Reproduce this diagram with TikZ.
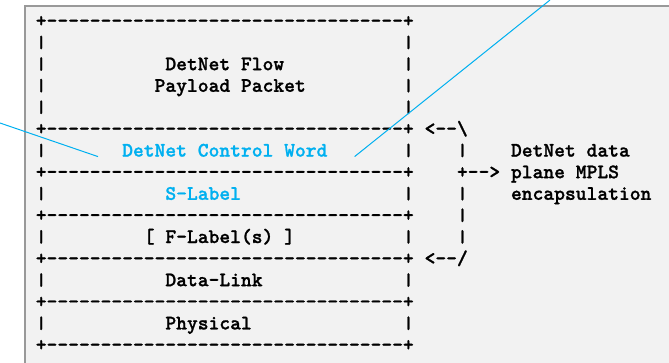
\documentclass[tikz,border=0pt]{standalone}
\usepackage{fontspec}
\setmonofont{lmmonolt10-bold.otf}[FakeBold=1.1]
\usepackage{tikz}
\definecolor{ctlblue}{HTML}{00B0F0}
\definecolor{panelgray}{HTML}{F2F2F2}
\definecolor{panelline}{HTML}{999999}
\newcommand{\rowline}{+---------------------------------+}
\newcommand{\vb}{\raisebox{0.8pt}{\scalebox{1}[0.85]{|}}}
\tikzset{
  ascii/.style={font=\ttfamily\fontsize{20.57pt}{20.57pt}\selectfont, anchor=base west, inner sep=0pt},
  hilite/.style={ascii, text=ctlblue},
  callout/.style={draw=ctlblue, line width=1pt}
}
\begin{document}
\begin{tikzpicture}[x=1pt, y=-1pt]
\useasboundingbox (0,0) rectangle (669,362);
\draw [panelline, fill=panelgray, line width=1.5pt] (25,6) rectangle (700,390);

\begin{scope}[shift={(35.6pt,-27pt)}, x=10.8pt, y=-21.6pt]
\node [ascii] (b0) at (0,0) {\rowline};
\node [ascii] (l1) at (0,1) {\vb}; \node [ascii] (r1) at (34,1) {\vb};
\node [ascii] (l2) at (0,2) {\vb}; \node [ascii] (r2) at (34,2) {\vb};
\node [ascii] (flow) at (12,2) {DetNet Flow};
\node [ascii] (l3) at (0,3) {\vb}; \node [ascii] (r3) at (34,3) {\vb};
\node [ascii] (payload) at (11,3) {Payload Packet};
\node [ascii] (l4) at (0,4) {\vb}; \node [ascii] (r4) at (34,4) {\vb};
\node [ascii] (b5) at (0,5) {\rowline};
\node [ascii] (l6) at (0,6) {\vb}; \node [ascii] (r6) at (34,6) {\vb};
\node [hilite] (ctl) at (8,6) {DetNet Control Word};
\node [ascii] (b7) at (0,7) {\rowline};
\node [ascii] (l8) at (0,8) {\vb}; \node [ascii] (r8) at (34,8) {\vb};
\node [hilite] (slabel) at (12,8) {S-Label};
\node [ascii] (b9) at (0,9) {\rowline};
\node [ascii] (l10) at (0,10) {\vb}; \node [ascii] (r10) at (34,10) {\vb};
\node [ascii] (flabel) at (10,10) {[ F-Label(s) ]};
\node [ascii] (b11) at (0,11) {\rowline};
\node [ascii] (l12) at (0,12) {\vb}; \node [ascii] (r12) at (34,12) {\vb};
\node [ascii] (link) at (12,12) {Data-Link};
\node [ascii] (b13) at (0,13) {\rowline};
\node [ascii] (l14) at (0,14) {\vb}; \node [ascii] (r14) at (34,14) {\vb};
\node [ascii] (phys) at (12,14) {Physical};
\node [ascii] (b15) at (0,15) {\rowline};

\node [ascii] (brtop) at (36,5) {<--\textbackslash};
\node [ascii] (br6) at (39,6) {\vb};
\node [ascii] (brmid) at (39,7) {+-->};
\node [ascii] (br8) at (39,8) {\vb};
\node [ascii] (br9) at (39,9) {\vb};
\node [ascii] (br10) at (39,10) {\vb};
\node [ascii] (brbot) at (36,11) {<--/};
\node [ascii] (enc1) at (44,6) {DetNet data};
\node [ascii] (enc2) at (44,7) {plane MPLS};
\node [ascii] (enc3) at (44,8) {encapsulation};
\end{scope}

\coordinate (inL) at (0,123);
\coordinate (inR) at (550,0);
\draw [callout] (inL) -- ([xshift=-24pt]ctl.base west);
\draw [callout] ([xshift=27pt]ctl.base east) -- (inR);
\end{tikzpicture}
\end{document}
